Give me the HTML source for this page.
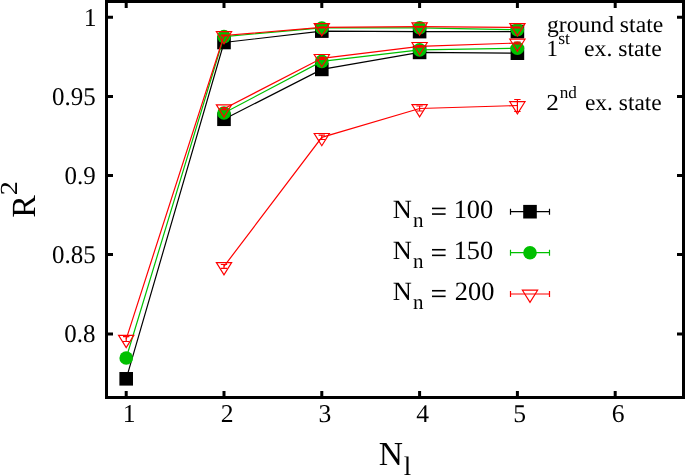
<!DOCTYPE html>
<html><head><meta charset="utf-8"><style>
html,body{margin:0;padding:0;background:#fff;}
body{width:685px;height:475px;overflow:hidden;}
svg{display:block;will-change:transform;}
text{font-family:"Liberation Serif",serif;fill:#000;font-kerning:none;text-rendering:geometricPrecision;}
</style></head><body>
<svg width="685" height="475" viewBox="0 0 685 475">
<rect width="685" height="475" fill="#fff"/>
<path d="M126.20,378.80L224.00,42.50L321.80,31.10L419.60,31.60L517.40,31.60" stroke="#000000" stroke-width="1.2" fill="none"/><rect x="119.40" y="372.00" width="13.60" height="13.60" fill="#000000"/><rect x="217.20" y="35.70" width="13.60" height="13.60" fill="#000000"/><rect x="315.00" y="24.30" width="13.60" height="13.60" fill="#000000"/><rect x="412.80" y="24.80" width="13.60" height="13.60" fill="#000000"/><rect x="510.60" y="24.80" width="13.60" height="13.60" fill="#000000"/><path d="M224.00,119.25L321.80,69.40L419.60,52.40L517.40,53.20" stroke="#000000" stroke-width="1.2" fill="none"/><rect x="217.20" y="112.45" width="13.60" height="13.60" fill="#000000"/><rect x="315.00" y="62.60" width="13.60" height="13.60" fill="#000000"/><rect x="412.80" y="45.60" width="13.60" height="13.60" fill="#000000"/><rect x="510.60" y="46.40" width="13.60" height="13.60" fill="#000000"/><path d="M126.20,358.00L224.00,36.60L321.80,27.95L419.60,27.80L517.40,29.70" stroke="#00c000" stroke-width="1.2" fill="none"/><circle cx="126.20" cy="358.00" r="6.80" fill="#00c000"/><circle cx="224.00" cy="36.60" r="6.80" fill="#00c000"/><circle cx="321.80" cy="27.95" r="6.80" fill="#00c000"/><circle cx="419.60" cy="27.80" r="6.80" fill="#00c000"/><circle cx="517.40" cy="29.70" r="6.80" fill="#00c000"/><path d="M224.00,113.00L321.80,61.40L419.60,49.90L517.40,48.30" stroke="#00c000" stroke-width="1.2" fill="none"/><circle cx="224.00" cy="113.00" r="6.80" fill="#00c000"/><circle cx="321.80" cy="61.40" r="6.80" fill="#00c000"/><circle cx="419.60" cy="49.90" r="6.80" fill="#00c000"/><circle cx="517.40" cy="48.30" r="6.80" fill="#00c000"/><path d="M126.20,339.10L224.00,35.50L321.80,27.40L419.60,26.70L517.40,27.40" stroke="#ff0000" stroke-width="1.2" fill="none"/><path d="M126.20,336.70V341.50M123.00,336.70H129.40M123.00,341.50H129.40" stroke="#ff0000" stroke-width="1.2" fill="none"/><path d="M224.00,35.10V35.90M220.80,35.10H227.20M220.80,35.90H227.20" stroke="#ff0000" stroke-width="1.2" fill="none"/><path d="M321.80,27.00V27.80M318.60,27.00H325.00M318.60,27.80H325.00" stroke="#ff0000" stroke-width="1.2" fill="none"/><path d="M419.60,26.30V27.10M416.40,26.30H422.80M416.40,27.10H422.80" stroke="#ff0000" stroke-width="1.2" fill="none"/><path d="M517.40,27.00V27.80M514.20,27.00H520.60M514.20,27.80H520.60" stroke="#ff0000" stroke-width="1.2" fill="none"/><path d="M118.60,335.30L133.80,335.30L126.20,347.50Z" fill="none" stroke="#ff0000" stroke-width="1.2"/><path d="M216.40,31.70L231.60,31.70L224.00,43.90Z" fill="none" stroke="#ff0000" stroke-width="1.2"/><path d="M314.20,23.60L329.40,23.60L321.80,35.80Z" fill="none" stroke="#ff0000" stroke-width="1.2"/><path d="M412.00,22.90L427.20,22.90L419.60,35.10Z" fill="none" stroke="#ff0000" stroke-width="1.2"/><path d="M509.80,23.60L525.00,23.60L517.40,35.80Z" fill="none" stroke="#ff0000" stroke-width="1.2"/><path d="M224.00,108.70L321.80,58.30L419.60,46.30L517.40,43.00" stroke="#ff0000" stroke-width="1.2" fill="none"/><path d="M224.00,107.70V109.70M220.80,107.70H227.20M220.80,109.70H227.20" stroke="#ff0000" stroke-width="1.2" fill="none"/><path d="M321.80,57.30V59.30M318.60,57.30H325.00M318.60,59.30H325.00" stroke="#ff0000" stroke-width="1.2" fill="none"/><path d="M419.60,45.50V47.10M416.40,45.50H422.80M416.40,47.10H422.80" stroke="#ff0000" stroke-width="1.2" fill="none"/><path d="M517.40,42.20V43.80M514.20,42.20H520.60M514.20,43.80H520.60" stroke="#ff0000" stroke-width="1.2" fill="none"/><path d="M216.40,104.90L231.60,104.90L224.00,117.10Z" fill="none" stroke="#ff0000" stroke-width="1.2"/><path d="M314.20,54.50L329.40,54.50L321.80,66.70Z" fill="none" stroke="#ff0000" stroke-width="1.2"/><path d="M412.00,42.50L427.20,42.50L419.60,54.70Z" fill="none" stroke="#ff0000" stroke-width="1.2"/><path d="M509.80,39.20L525.00,39.20L517.40,51.40Z" fill="none" stroke="#ff0000" stroke-width="1.2"/><path d="M224.00,266.40L321.80,137.30L419.60,108.50L517.40,105.50" stroke="#ff0000" stroke-width="1.2" fill="none"/><path d="M224.00,264.50V268.30M220.80,264.50H227.20M220.80,268.30H227.20" stroke="#ff0000" stroke-width="1.2" fill="none"/><path d="M321.80,135.10V139.50M318.60,135.10H325.00M318.60,139.50H325.00" stroke="#ff0000" stroke-width="1.2" fill="none"/><path d="M419.60,106.00V111.00M416.40,106.00H422.80M416.40,111.00H422.80" stroke="#ff0000" stroke-width="1.2" fill="none"/><path d="M517.40,99.50V111.50M514.20,99.50H520.60M514.20,111.50H520.60" stroke="#ff0000" stroke-width="1.2" fill="none"/><path d="M216.40,262.60L231.60,262.60L224.00,274.80Z" fill="none" stroke="#ff0000" stroke-width="1.2"/><path d="M314.20,133.50L329.40,133.50L321.80,145.70Z" fill="none" stroke="#ff0000" stroke-width="1.2"/><path d="M412.00,104.70L427.20,104.70L419.60,116.90Z" fill="none" stroke="#ff0000" stroke-width="1.2"/><path d="M509.80,101.70L525.00,101.70L517.40,113.90Z" fill="none" stroke="#ff0000" stroke-width="1.2"/>
<path d="M510.5,211.7H549.5M510.5,208.7V214.7M549.5,208.7V214.7" stroke="#000000" stroke-width="1.2" fill="none"/><rect x="523.20" y="204.90" width="13.60" height="13.60" fill="#000000"/><text x="392.84" y="218.10" font-size="26.4">N</text><text x="412.92" y="227.10" font-size="21">n</text><rect x="432" y="207.65" width="13.6" height="1.6"/><rect x="432" y="213.25" width="13.6" height="1.6"/><text x="453.68" y="218.10" font-size="26.4">100</text><path d="M510.5,252.7H549.5M510.5,249.7V255.7M549.5,249.7V255.7" stroke="#00c000" stroke-width="1.2" fill="none"/><circle cx="530.00" cy="252.70" r="6.80" fill="#00c000"/><text x="392.84" y="259.40" font-size="26.4">N</text><text x="412.92" y="268.40" font-size="21">n</text><rect x="432" y="248.95" width="13.6" height="1.6"/><rect x="432" y="254.55" width="13.6" height="1.6"/><text x="453.68" y="259.40" font-size="26.4">150</text><path d="M510.5,294H549.5M510.5,291V297M549.5,291V297" stroke="#ff0000" stroke-width="1.2" fill="none"/><path d="M522.40,290.20L537.60,290.20L530.00,302.40Z" fill="none" stroke="#ff0000" stroke-width="1.2"/><text x="392.84" y="300.40" font-size="26.4">N</text><text x="412.92" y="309.40" font-size="21">n</text><rect x="432" y="289.95" width="13.6" height="1.6"/><rect x="432" y="295.55" width="13.6" height="1.6"/><text x="454.84" y="300.40" font-size="26.4">200</text>
<path d="M126.20,396V391M126.20,3V8" stroke="#000" stroke-width="3" fill="none"/><path d="M224.00,396V391M224.00,3V8" stroke="#000" stroke-width="3" fill="none"/><path d="M321.80,396V391M321.80,3V8" stroke="#000" stroke-width="3" fill="none"/><path d="M419.60,396V391M419.60,3V8" stroke="#000" stroke-width="3" fill="none"/><path d="M517.40,396V391M517.40,3V8" stroke="#000" stroke-width="3" fill="none"/><path d="M615.20,396V391M615.20,3V8" stroke="#000" stroke-width="3" fill="none"/><path d="M108,17.25H113M682,17.25H677" stroke="#000" stroke-width="3" fill="none"/><path d="M108,96.5H113M682,96.5H677" stroke="#000" stroke-width="3" fill="none"/><path d="M108,175.5H113M682,175.5H677" stroke="#000" stroke-width="3" fill="none"/><path d="M108,254.6H113M682,254.6H677" stroke="#000" stroke-width="3" fill="none"/><path d="M108,334.1H113M682,334.1H677" stroke="#000" stroke-width="3" fill="none"/>
<rect x="106.5" y="1.5" width="577" height="396" fill="none" stroke="#000" stroke-width="3"/>
<text x="83.64" y="25.60" font-size="25.6">1</text><text transform="translate(52.05,104.83) scale(0.975,1)" font-size="25.6">0.95</text><text transform="translate(64.55,184.03) scale(0.975,1)" font-size="25.6">0.9</text><text transform="translate(52.05,263.13) scale(0.975,1)" font-size="25.6">0.85</text><text transform="translate(64.35,342.28) scale(0.975,1)" font-size="25.6">0.8</text><text x="122.84" y="422.25" font-size="25.6">1</text><text x="220.74" y="422.28" font-size="25.6">2</text><text x="318.49" y="422.15" font-size="25.6">3</text><text x="416.35" y="422.23" font-size="25.6">4</text><text x="513.36" y="422.06" font-size="25.6">5</text><text x="611.73" y="422.15" font-size="25.6">6</text><text x="378.63" y="464.60" font-size="33.5">N</text><text x="403.76" y="475.20" font-size="26.8">l</text><text transform="translate(34.90,217.67) rotate(-90) scale(1.000,1)" font-size="33.8">R</text><text transform="translate(17.20,195.24) rotate(-90) scale(1.150,1)" font-size="24.5">2</text><text transform="translate(546.98,31.80) scale(1.028,1)" font-size="23.0">ground state</text><text x="546.53" y="55.90" font-size="23.0">1</text><text x="558.28" y="44.40" font-size="17.6">st</text><text transform="translate(584.07,55.70) scale(1.030,1)" font-size="23.0">ex. state</text><text transform="translate(546.19,110.00) scale(1.100,1)" font-size="23.0">2</text><text x="559.71" y="97.70" font-size="17.2">nd</text><text transform="translate(584.88,110.00) scale(1.020,1)" font-size="23.0">ex. state</text>
</svg>
</body></html>
